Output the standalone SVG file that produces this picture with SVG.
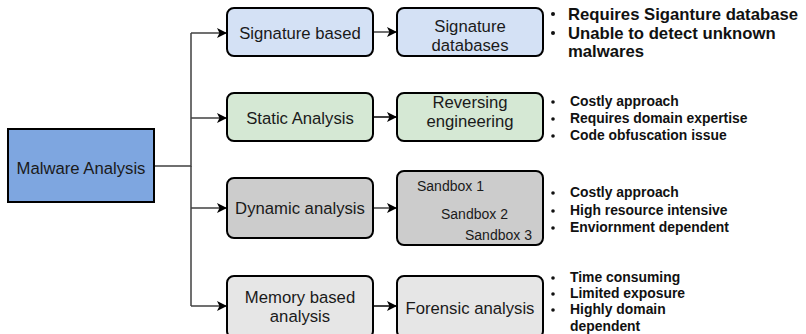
<svg xmlns="http://www.w3.org/2000/svg" width="806" height="334" viewBox="0 0 806 334">
  <defs>
    <marker id="arrow" viewBox="0 0 10 10" refX="10" refY="5" markerWidth="10" markerHeight="10" markerUnits="userSpaceOnUse" orient="auto">
      <path d="M0,0 L10,5 L0,10 L2.5,5 Z" fill="#000"/>
    </marker>
    <style>
      .node { stroke: #000; stroke-width: 2; }
      .label { font-family: "Liberation Sans", Arial, sans-serif; font-size: 16.7px; fill: #1a1a1a; text-anchor: middle; }
      .small { font-family: "Liberation Sans", Arial, sans-serif; font-size: 14px; fill: #1a1a1a; }
      .note { font-family: "Liberation Sans", Arial, sans-serif; font-weight: bold; fill: #111; }
      .big { font-size: 16.7px; }
      .mid { font-size: 13.9px; }
      .edge { fill: none; stroke: #404040; stroke-width: 1.5; }
      .bullet { fill: #111; }
    </style>
  </defs>
  <rect width="806" height="334" fill="#fff"/>

  <!-- connectors -->
  <g id="connectors">
    <path class="edge" d="M154,166 H191 V33"/>
    <path class="edge" d="M191,166 V306"/>
    <path class="edge" d="M191,33 H227" marker-end="url(#arrow)"/>
    <path class="edge" d="M191,118 H227" marker-end="url(#arrow)"/>
    <path class="edge" d="M191,208 H227" marker-end="url(#arrow)"/>
    <path class="edge" d="M191,306 H227" marker-end="url(#arrow)"/>
    <path class="edge" d="M373,32 H397" marker-end="url(#arrow)"/>
    <path class="edge" d="M373,117 H397" marker-end="url(#arrow)" style="stroke:#000"/>
    <path class="edge" d="M373,208 H397" marker-end="url(#arrow)"/>
    <path class="edge" d="M373,306 H397" marker-end="url(#arrow)" style="stroke:#000"/>
  </g>

  <!-- root -->
  <g id="malware-analysis">
    <rect class="node" x="8" y="129" width="146" height="73" fill="#7ea6e0"/>
    <text class="label" x="81" y="174">Malware Analysis</text>
  </g>

  <!-- first column -->
  <g id="signature-based">
    <rect class="node" x="227" y="8" width="146" height="48" rx="7" fill="#d4e1f5"/>
    <text class="label" x="300" y="39">Signature based</text>
  </g>
  <g id="static-analysis">
    <rect class="node" x="227" y="93" width="146" height="48" rx="7" fill="#d5e8d4"/>
    <text class="label" x="300" y="124">Static Analysis</text>
  </g>
  <g id="dynamic-analysis">
    <rect class="node" x="227" y="178" width="146" height="60" rx="7" fill="#cccccc"/>
    <text class="label" x="300" y="214">Dynamic analysis</text>
  </g>
  <g id="memory-based-analysis">
    <rect class="node" x="227" y="276" width="146" height="62" rx="7" fill="#e6e6e6"/>
    <text class="label" x="300" y="303">Memory based</text>
    <text class="label" x="300" y="322">analysis</text>
  </g>

  <!-- second column -->
  <g id="signature-databases">
    <rect class="node" x="397" y="8" width="146" height="48" rx="7" fill="#d4e1f5"/>
    <text class="label" x="470" y="31.5">Signature</text>
    <text class="label" x="470" y="50.5">databases</text>
  </g>
  <g id="reversing-engineering">
    <rect class="node" x="397" y="93" width="146" height="48" rx="7" fill="#d5e8d4"/>
    <text class="label" x="470" y="108">Reversing</text>
    <text class="label" x="470" y="127">engineering</text>
  </g>
  <g id="sandboxes">
    <rect class="node" x="397" y="171" width="146" height="74" rx="7" fill="#cccccc"/>
    <text class="small" x="417" y="191">Sandbox 1</text>
    <text class="small" x="441" y="219">Sandbox 2</text>
    <text class="small" x="465" y="240">Sandbox 3</text>
  </g>
  <g id="forensic-analysis">
    <rect class="node" x="397" y="276" width="146" height="62" rx="7" fill="#e6e6e6"/>
    <text class="label" x="470" y="314">Forensic analysis</text>
  </g>

  <!-- notes -->
  <g id="notes-signature">
    <circle class="bullet" cx="553" cy="14" r="2"/>
    <circle class="bullet" cx="553" cy="33" r="2"/>
    <text class="note big" x="568" y="20">Requires Siganture database</text>
    <text class="note big" x="568" y="39">Unable to detect unknown</text>
    <text class="note big" x="568" y="57">malwares</text>
  </g>
  <g id="notes-static">
    <circle class="bullet" cx="553" cy="102" r="1.8"/>
    <circle class="bullet" cx="553" cy="119" r="1.8"/>
    <circle class="bullet" cx="553" cy="136" r="1.8"/>
    <text class="note mid" x="570" y="106">Costly approach</text>
    <text class="note mid" x="570" y="123">Requires domain expertise</text>
    <text class="note mid" x="570" y="140">Code obfuscation issue</text>
  </g>
  <g id="notes-dynamic">
    <circle class="bullet" cx="553" cy="193" r="1.8"/>
    <circle class="bullet" cx="553" cy="211" r="1.8"/>
    <circle class="bullet" cx="553" cy="228" r="1.8"/>
    <text class="note mid" x="570" y="197">Costly approach</text>
    <text class="note mid" x="570" y="215">High resource intensive</text>
    <text class="note mid" x="570" y="232">Enviornment dependent</text>
  </g>
  <g id="notes-memory">
    <circle class="bullet" cx="553" cy="278" r="1.8"/>
    <circle class="bullet" cx="553" cy="294" r="1.8"/>
    <circle class="bullet" cx="553" cy="310" r="1.8"/>
    <text class="note mid" x="570" y="282">Time consuming</text>
    <text class="note mid" x="570" y="298">Limited exposure</text>
    <text class="note mid" x="570" y="314">Highly domain</text>
    <text class="note mid" x="570" y="331">dependent</text>
  </g>
</svg>
